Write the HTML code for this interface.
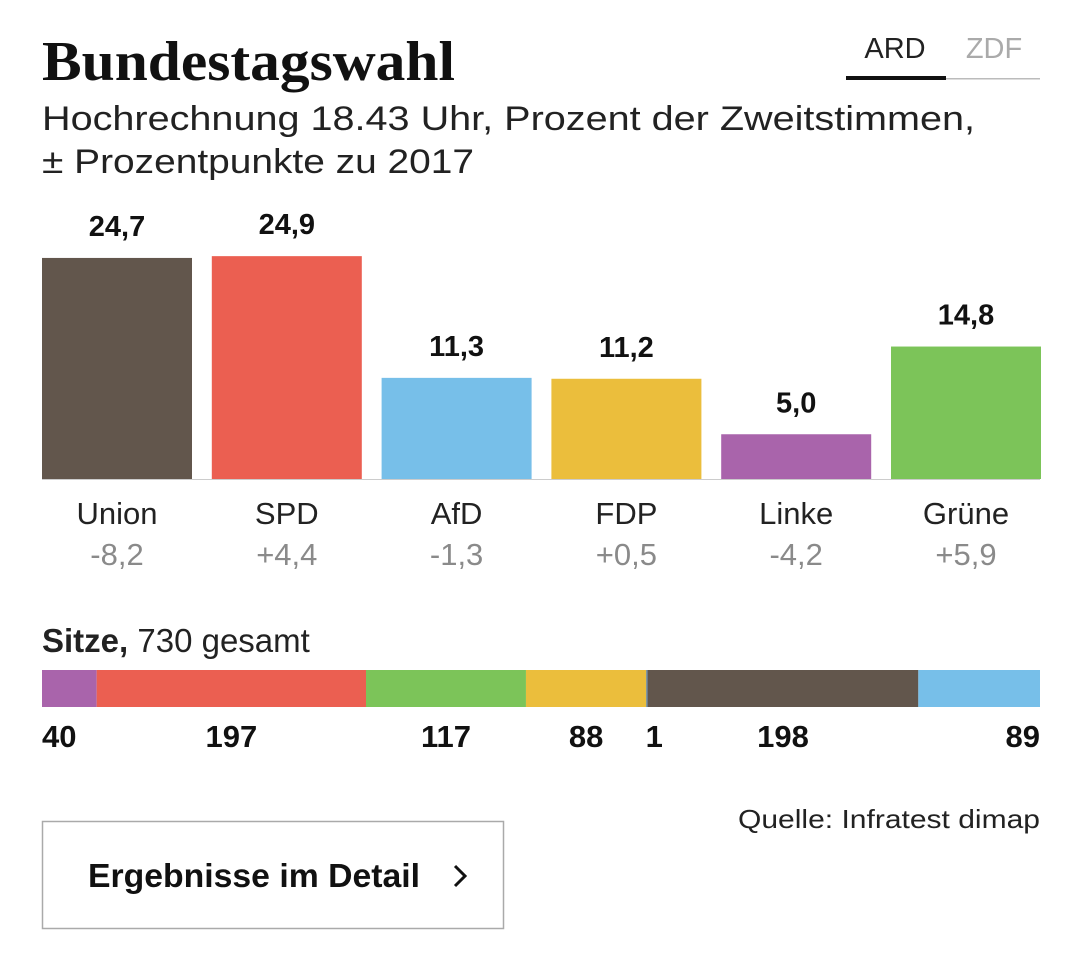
<!DOCTYPE html>
<html><head><meta charset="utf-8"><style>
html,body{margin:0;padding:0;background:#fff;}
svg{display:block;font-family:"Liberation Sans",sans-serif;}
</style></head><body>
<svg id="chart" width="1079" height="965" viewBox="0 0 1079 965">
<text x="42" y="80" font-family="Liberation Serif,serif" font-weight="bold" font-size="56" textLength="413" lengthAdjust="spacingAndGlyphs" fill="#111">Bundestagswahl</text>
<text x="42" y="130" font-size="34" textLength="933" lengthAdjust="spacingAndGlyphs" fill="#222">Hochrechnung 18.43 Uhr, Prozent der Zweitstimmen,</text>
<text x="42" y="173" font-size="34" textLength="432" lengthAdjust="spacingAndGlyphs" fill="#222">± Prozentpunkte zu 2017</text>
<g><text x="895" y="58" font-size="29" text-anchor="middle" fill="#222">ARD</text><rect x="846" y="76" width="100" height="4" fill="#111"/></g>
<g><text x="994" y="58" font-size="29" text-anchor="middle" fill="#aaa">ZDF</text><rect x="946" y="78" width="94" height="1.5" fill="#bbb"/></g>
<g id="bars"></g>
<line x1="42" x2="1040" y1="479.5" y2="479.5" stroke="#ccc" stroke-width="1"/>
<text x="42" y="652" font-size="33" fill="#222"><tspan font-weight="bold">Sitze,</tspan> 730 gesamt</text>
<g id="seats"></g>
<text x="738" y="828" font-size="26" textLength="302" lengthAdjust="spacingAndGlyphs" fill="#222">Quelle: Infratest dimap</text>
<g>
<rect x="42.5" y="821.5" width="461" height="107" fill="#fff" stroke="#aaa" stroke-width="1.5"/>
<text x="88" y="887" font-size="33" font-weight="bold" textLength="332" lengthAdjust="spacingAndGlyphs" fill="#111">Ergebnisse im Detail</text>
<path d="M455 866 L465 876 L455 886" fill="none" stroke="#111" stroke-width="3"/>
</g>
</svg>
<script>
const parties=["Union","SPD","AfD","FDP","Linke","Grüne"];
const shares=[24.7,24.9,11.3,11.2,5.0,14.8];
const deltas=["-8,2","+4,4","-1,3","+0,5","-4,2","+5,9"];
const partyColors=["#62564c","#eb5f51","#77bfe9","#ebbe3c","#a964ab","#7cc459"];
const seatParties=["Linke","SPD","Grüne","FDP","SSW","Union","AfD"];
const seats=[40,197,117,88,1,198,89];
const seatColors=["#a964ab","#eb5f51","#7cc459","#ebbe3c","#5a7fa0","#62564c","#77bfe9"];
const NS="http://www.w3.org/2000/svg";
const base=479, scale=8.95, left=42, bw=150, step=169.8;
const fmt=v=>v.toFixed(1).replace(".",",");
const bg=document.getElementById("bars");
function mk(tag,attrs,parent,txt){const e=document.createElementNS(NS,tag);for(const k in attrs)e.setAttribute(k,attrs[k]);if(txt!==undefined)e.textContent=txt;parent.appendChild(e);return e;}
parties.forEach((p,i)=>{
  const x=left+i*step, h=shares[i]*scale, cx=x+bw/2;
  const r=mk("rect",{x:x,y:base-h,width:bw,height:h,fill:partyColors[i]},bg);
  
  
  const v=mk("text",{x:cx,y:base-h-22,"text-anchor":"middle","font-size":29,"font-weight":"bold",fill:"#111"},bg,fmt(shares[i]));
  
  
  const n=mk("text",{x:cx,y:524,"text-anchor":"middle","font-size":31,fill:"#222"},bg,p);
  
  
  const d=mk("text",{x:cx,y:565,"text-anchor":"middle","font-size":31,fill:"#8a8a8a"},bg,deltas[i]);
  
  
});
const sg=document.getElementById("seats");
const total=seats.reduce((a,b)=>a+b,0), W=998;
let acc=0;
seats.forEach((s,i)=>{
  const x=left+acc/total*W, w=s/total*W;
  const r=mk("rect",{x:x,y:670,width:w,height:37,fill:seatColors[i]},sg);
  
  
  let tx=x+w/2, anchor="middle";
  if(i===0){tx=left;anchor="start";}
  else if(i===seats.length-1){tx=left+W;anchor="end";}
  else if(w<10){tx=x+8;}
  const t=mk("text",{x:tx,y:747,"text-anchor":anchor,"font-size":31,"font-weight":"bold",fill:"#111"},sg,String(s));
  
  
  acc+=s;
});
</script>
</body></html>
